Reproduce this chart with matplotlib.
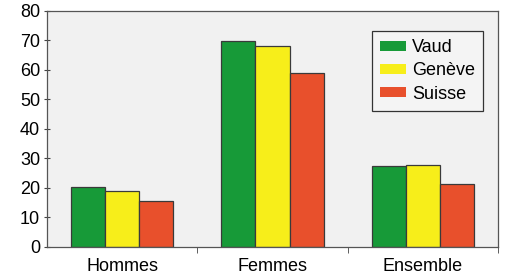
import numpy as np
from matplotlib import pyplot as plt

categories = ['Hommes', 'Femmes', 'Ensemble']
vaud = [20.1, 69.8, 27.3]
geneve = [19.0, 67.9, 27.7]
suisse = [15.6, 58.8, 21.3]
series_names = ['Vaud', 'Genève', 'Suisse']
colors = ['#179a38', '#f7ee1a', '#e8502c']

plt.rcParams['font.family'] = ['Liberation Sans', 'DejaVu Sans']
fig = plt.figure(figsize=(5.07, 2.80), dpi=100)
ax = fig.add_axes([0.093, 0.119, 0.889, 0.843])
ax.set_facecolor('#f1f1f1')

x = np.arange(len(categories))
w = 0.227
for i, (vals, name, c) in enumerate(zip([vaud, geneve, suisse], series_names, colors)):
    ax.bar(x + (i - 1) * w, vals, w, color=c, edgecolor='#3a3a3a', linewidth=0.9, label=name)

ax.set_xlim(-0.5, 2.5)
ax.set_ylim(0, 80)
ax.set_yticks(range(0, 81, 10))
ax.set_xticks(x)
ax.set_xticklabels(categories)
ax.set_xticks([0.5, 1.5, 2.5], minor=True)
ax.tick_params(axis='x', which='major', length=0, labelsize=13, pad=8)
ax.tick_params(axis='x', which='minor', length=4, color='#444444')
ax.tick_params(axis='y', length=4, direction='inout', labelsize=13, color='#444444', pad=3)
for s in ax.spines.values():
    s.set_color('#555555')
    s.set_linewidth(0.9)

leg = ax.legend(loc='upper right', bbox_to_anchor=(0.967, 0.914), fontsize=13,
                frameon=True, fancybox=False, handlelength=1.45, handleheight=0.5,
                handletextpad=0.3, labelspacing=0.35, borderpad=0.45, borderaxespad=0)
leg.get_frame().set_edgecolor('#333333')
leg.get_frame().set_facecolor('#f4f4f4')
leg.get_frame().set_linewidth(0.9)
leg.get_frame().set_alpha(1)
for h in leg.legend_handles:
    h.set_edgecolor('none')

fig.savefig('out.png', dpi=100)
